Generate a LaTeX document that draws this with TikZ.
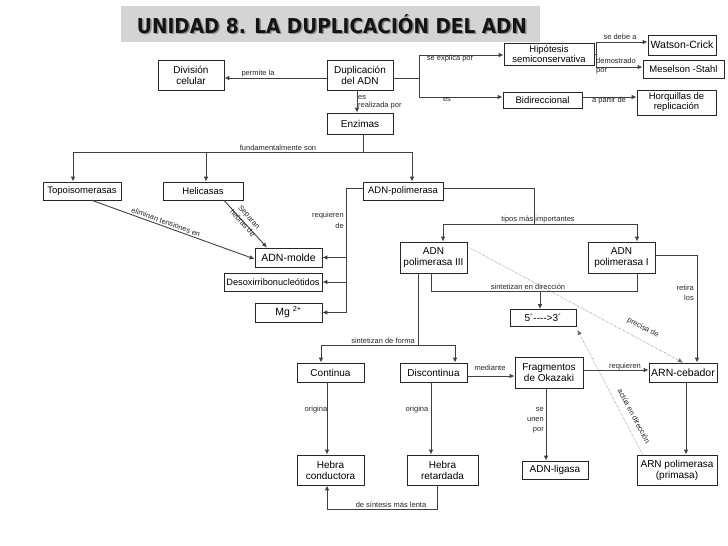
\documentclass[tikz,border=0pt]{standalone}
\usepackage{fontspec}
\setmainfont{Liberation Sans}
\newfontfamily\titlefont{DejaVu Sans}
\usetikzlibrary{arrows.meta}
\begin{document}
\begin{tikzpicture}[x=1pt,y=-1pt,
  box/.style={draw=black!85, line width=0.8pt, fill=white, align=center, inner sep=1pt, font=\fontsize{9.5}{10.5}\selectfont},
  lbl/.style={font=\fontsize{7.5}{9}\selectfont, inner sep=0pt, text=black!85},
  conn/.style={draw=black!75, line width=0.9pt},
  arr/.style={conn, -{Latex[length=5pt,width=4.5pt]}},
  dots/.style={draw=black!60, line width=0.5pt, densely dotted},
  darr/.style={dots, -{Latex[length=5pt,width=4.5pt]}},
]
\useasboundingbox (0,0) rectangle (728,546);

% title
\fill[black!17] (121,6) rectangle (540,42);
\node[anchor=base, text=black!45, inner sep=0pt] (tsh) at (333.5,34.5) {\titlefont\bfseries\fontsize{20.5}{22}\selectfont\resizebox{390pt}{\height}{UNIDAD 8. LA DUPLICACIÓN DEL ADN}};
\node[anchor=base, text=black!92, inner sep=0pt] (title) at (332,33) {\titlefont\bfseries\fontsize{20.5}{22}\selectfont\resizebox{390pt}{\height}{UNIDAD 8. LA DUPLICACIÓN DEL ADN}};

% boxes
\node[box, minimum width=66pt, minimum height=30pt, font=\fontsize{10}{11}\selectfont] (div) at (191,75) {División\\celular};
\node[box, minimum width=66pt, minimum height=30pt, font=\fontsize{10}{11}\selectfont] (dup) at (360,75) {Duplicación\\del ADN};
\node[box, minimum width=66pt, minimum height=21pt, font=\fontsize{10}{11}\selectfont] (enz) at (360,123.5) {Enzimas};
\node[box, minimum width=90pt, minimum height=22pt, font=\fontsize{9.5}{9.5}\selectfont] (hip) at (549,54) {Hipótesis\\semiconservativa};
\node[box, minimum width=68pt, minimum height=20pt, font=\fontsize{10.5}{11}\selectfont] (wc) at (682,45) {Watson-Crick};
\node[box, minimum width=81pt, minimum height=18pt, font=\fontsize{9.5}{10}\selectfont] (ms) at (683.5,69) {Meselson -Stahl};
\node[box, minimum width=79pt, minimum height=16pt] (bid) at (542.5,100) {Bidireccional};
\node[box, minimum width=79pt, minimum height=25pt, font=\fontsize{9.5}{10}\selectfont] (hor) at (676.5,102.5) {Horquillas de\\replicación};
\node[box, minimum width=78pt, minimum height=18pt] (topo) at (82,191) {Topoisomerasas};
\node[box, minimum width=80pt, minimum height=18pt] (heli) at (203,191) {Helicasas};
\node[box, minimum width=80pt, minimum height=18pt] (pol) at (403,191) {ADN-polimerasa};
\node[box, minimum width=67pt, minimum height=19pt, font=\fontsize{10.5}{11}\selectfont] (molde) at (288.5,257.5) {ADN-molde};
\node[box, minimum width=98pt, minimum height=18pt, inner sep=0.5pt, font=\fontsize{9.2}{10}\selectfont] (desoxi) at (273,282) {Desoxirribonucleótidos};
\node[box, minimum width=67pt, minimum height=19pt, font=\fontsize{10.5}{11}\selectfont] (mg) at (288.5,312.5) {Mg \textsuperscript{2+}};
\node[box, minimum width=67pt, minimum height=31pt, font=\fontsize{10}{11}\selectfont] (p3) at (433.5,257.5) {ADN\\polimerasa III};
\node[box, minimum width=67pt, minimum height=31pt, font=\fontsize{10}{11}\selectfont] (p1) at (621.5,257.5) {ADN\\polimerasa I};
\node[box, minimum width=66pt, minimum height=17pt, font=\fontsize{10}{11}\selectfont] (dir) at (543,318) {5´-{}-{}-{}->3´};
\node[box, minimum width=67pt, minimum height=19pt, font=\fontsize{10}{11}\selectfont] (cont) at (330.5,372.5) {Continua};
\node[box, minimum width=67pt, minimum height=19pt, font=\fontsize{10}{11}\selectfont] (disc) at (433.5,372.5) {Discontinua};
\node[box, minimum width=68pt, minimum height=31pt, font=\fontsize{10}{11}\selectfont] (frag) at (549,372.5) {Fragmentos\\de Okazaki};
\node[box, minimum width=68pt, minimum height=19pt, font=\fontsize{10.5}{11}\selectfont] (ceb) at (683,372.5) {ARN-cebador};
\node[box, minimum width=67pt, minimum height=30pt, font=\fontsize{10}{11}\selectfont] (hc) at (330.5,470) {Hebra\\conductora};
\node[box, minimum width=71pt, minimum height=30pt, font=\fontsize{10}{11}\selectfont] (hr) at (442.5,470) {Hebra\\retardada};
\node[box, minimum width=66pt, minimum height=18pt, font=\fontsize{10}{11}\selectfont] (lig) at (555,470) {ADN-ligasa};
\node[box, minimum width=80pt, minimum height=30pt, font=\fontsize{10}{11}\selectfont] (arnp) at (677,470) {ARN polimerasa\\(primasa)};

% Duplicacion connectors
\draw[arr] ([yshift=-3pt]dup.west) -- ([yshift=-3pt]dup.west -| div.east);
\node[lbl] (l1) at (258,74) {permite la};
\draw[arr] ([xshift=-3pt]dup.south) -- ([xshift=-3pt]dup.south |- enz.north);
\node[lbl, anchor=north west, align=left, font=\fontsize{7.5}{8.5}\selectfont] (l2) at (358,95) {es\\realizada por};
\coordinate (j1) at (419,78);
\coordinate (j1a) at (419,55);
\coordinate (j1b) at (419,97);
\draw[conn] ([yshift=-3pt]dup.east) -- (j1);
\draw[conn] (j1a) -- (j1b);
\draw[arr] (j1a) -- (j1a -| hip.west);
\draw[arr] (j1b) -- (j1b -| bid.west);
\node[lbl] (l3) at (450,59) {se explica por};
\node[lbl] (l4) at (447,100) {es};

% Hipotesis
\coordinate (j2a) at (596,42);
\coordinate (j2b) at (596,67);
\draw[conn] (hip.east) -- (hip.east -| j2a);
\draw[conn] (j2a) -- (j2b);
\draw[arr] (j2a) -- (j2a -| wc.west);
\draw[arr] (j2b) -- (j2b -| ms.west);
\node[lbl] (l5) at (620,37) {se debe a};
\node[lbl, anchor=west, align=left, font=\fontsize{7.5}{8.5}\selectfont] (l6) at (596,66) {demostrado\\por};

% Bidireccional
\draw[arr] ([yshift=3pt]bid.east) -- ([yshift=3pt]bid.east -| hor.west);
\node[lbl] (l7) at (609,101) {a partir de};

% Enzimas
\coordinate (j3) at (363,152);
\coordinate (j3l) at (73,152);
\coordinate (j3m) at (206,152);
\coordinate (j3r) at (412,152);
\draw[conn] ([xshift=3pt]enz.south) -- (j3);
\draw[conn] (j3l) -- (j3r);
\draw[arr] (j3l) -- (j3l |- topo.north);
\draw[arr] (j3m) -- (j3m |- heli.north);
\draw[arr] (j3r) -- (j3r |- pol.north);
\node[lbl] (l8) at (278,148) {fundamentalmente son};

% topo / heli -> molde
\draw[arr] ([xshift=10pt]topo.south) -- ([yshift=-1.5pt]molde.west);
\node[lbl, rotate=-20] (l9) at (166,222) {eliminan tensiones en};
\draw[arr] ([xshift=21pt]heli.south) -- ([xshift=-21.5pt]molde.north);
\node[lbl, rotate=-48, align=center, font=\fontsize{7.5}{9}\selectfont] (l10) at (246,220) {Separan\\hebras de};

% polimerasa left
\coordinate (j4) at (346,188);
\draw[conn] ([yshift=3pt]pol.west) -- (j4) -- (j4 |- mg.east);
\draw[arr] (j4 |- molde.east) -- (molde.east);
\draw[arr] (j4 |- desoxi.east) -- (desoxi.east);
\draw[arr] (j4 |- mg.east) -- (mg.east);
\node[lbl, anchor=east, align=right, font=\fontsize{7.5}{11}\selectfont] (l11) at (344,220) {requieren\\de};

% polimerasa right
\coordinate (j5) at (534,188);
\coordinate (j5b) at (534,224);
\coordinate (j5l) at (443,224);
\coordinate (j5r) at (637,224);
\draw[conn] ([yshift=3pt]pol.east) -- (j5) -- (j5b);
\draw[conn] (j5l) -- (j5r);
\draw[arr] (j5l) -- (j5l |- p3.north);
\draw[arr] (j5r) -- (j5r |- p1.north);
\node[lbl] (l12) at (538,220) {tipos más importantes};

% p3 / p1 -> direction
\coordinate (j6l) at (431,291);
\coordinate (j6r) at (637,291);
\coordinate (j6m) at (540,291);
\draw[conn] (j6l |- p3.south) -- (j6l) -- (j6r) -- (j6r |- p1.south);
\draw[arr] (j6m) -- (j6m |- dir.north);
\node[lbl] (l13) at (528,287) {sintetizan en dirección};

% p1 -> cebador
\coordinate (j7) at (697,255);
\draw[conn] (p1.east |- j7) -- (j7);
\draw[arr] (j7) -- (j7 |- ceb.north);
\node[lbl, anchor=east, align=right, font=\fontsize{7.5}{10}\selectfont] (l14) at (694,293) {retira\\los};

% dotted p3 -> cebador
\draw[darr] ([yshift=-5pt]p3.north east) -- (ceb.north);
\node[lbl, rotate=-28] (l15) at (643,328) {precisa de};

% p3 -> continua / discontinua
\coordinate (j8) at (418,345);
\coordinate (j8l) at (321,345);
\coordinate (j8r) at (455,345);
\draw[conn] (j8 |- p3.south) -- (j8);
\draw[conn] (j8l) -- (j8r);
\draw[arr] (j8l) -- (j8l |- cont.north);
\draw[arr] (j8r) -- (j8r |- disc.north);
\node[lbl] (l16) at (383,341) {sintetizan de forma};

% continua / discontinua -> hebras
\draw[arr] ([xshift=-3.5pt]cont.south) -- ([xshift=-3.5pt]cont.south |- hc.north);
\node[lbl] (l17) at (316,410) {origina};
\draw[arr] ([xshift=-2.5pt]disc.south) -- ([xshift=-2.5pt]disc.south |- hr.north);
\node[lbl] (l18) at (417,410) {origina};
\coordinate (j9r) at (437,509);
\coordinate (j9l) at (327,509);
\draw[arr] (j9r |- hr.south) -- (j9r) -- (j9l) -- (j9l |- hc.south);
\node[lbl] (l19) at (391,505) {de síntesis más lenta};

% discontinua -> fragmentos
\draw[arr] ([yshift=-3.5pt]disc.east) -- ([yshift=-3.5pt]disc.east -| frag.west);
\node[lbl] (l20) at (490,368) {mediante};
\draw[arr] ([yshift=2.5pt]frag.east) -- ([yshift=2.5pt]frag.east -| ceb.west);
\node[lbl] (l21) at (625,367) {requieren};
\draw[arr] ([xshift=-3pt]frag.south) -- ([xshift=-3pt]frag.south |- lig.north);
\node[lbl, anchor=east, align=right, font=\fontsize{7.5}{10}\selectfont] (l22) at (544,420) {se\\unen\\por};

% cebador -> ARN polimerasa
\draw[arr] ([xshift=3pt]ceb.south) -- ([xshift=3pt]ceb.south |- arnp.north);

% dotted ARN polimerasa -> direction
\draw[darr] ([xshift=6pt]arnp.north west) -- ([shift={(1pt,-3pt)}]dir.south east);
\node[lbl, rotate=-62] (l23) at (634,416) {actúa en dirección};

\end{tikzpicture}
\end{document}
